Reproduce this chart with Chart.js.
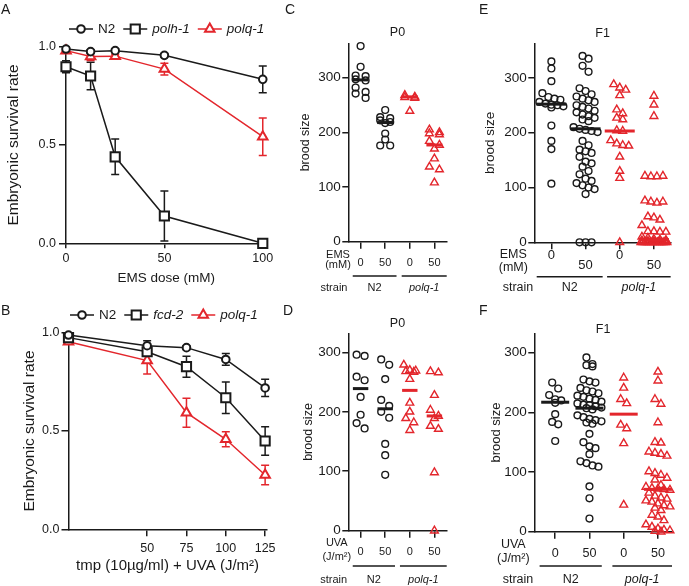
<!DOCTYPE html>
<html>
<head>
<meta charset="utf-8">
<script src="https://cdn.jsdelivr.net/npm/chart.js@4.4.1/dist/chart.umd.min.js"></script>
<style>
  body { margin: 0; background: #fff; }
  #fig { position: relative; width: 689px; height: 586px; overflow: hidden; font-family: 'Liberation Sans', Arial, sans-serif; }
  .panel { position: absolute; }
  .letter { position: absolute; font-size: 14px; color: #1a1a1a; line-height: 14px; }
</style>
</head>
<body>
<div id="fig">
  <div class="panel" style="left:0;top:0;width:300px;height:290px"><canvas id="chartA"></canvas></div>
  <div class="panel" style="left:0;top:290px;width:300px;height:296px"><canvas id="chartB"></canvas></div>
  <div class="panel" style="left:296px;top:0;width:184px;height:296px"><canvas id="chartC"></canvas></div>
  <div class="panel" style="left:296px;top:296px;width:184px;height:290px"><canvas id="chartD"></canvas></div>
  <div class="panel" style="left:480px;top:0;width:209px;height:296px"><canvas id="chartE"></canvas></div>
  <div class="panel" style="left:480px;top:296px;width:209px;height:290px"><canvas id="chartF"></canvas></div>
  <div class="letter" style="left:1px;top:2px">A</div>
  <div class="letter" style="left:1px;top:303px">B</div>
  <div class="letter" style="left:285px;top:2px">C</div>
  <div class="letter" style="left:283px;top:303px">D</div>
  <div class="letter" style="left:479px;top:2px">E</div>
  <div class="letter" style="left:479px;top:303px">F</div>
</div>
<script>
// ---- panel A: embryonic survival after EMS
const emsDose = [0, 12.5, 25, 50, 100];
const survEmsN2 = [0.988, 0.975, 0.98, 0.956, 0.834];
const errEmsN2 = [0.01, 0.01, 0.01, 0.01, 0.068];
const survEmsPolh = [0.898, 0.851, 0.44, 0.139, 0.0];
const errEmsPolh = [0.03, 0.07, 0.09, 0.127, 0];
const survEmsPolq = [0.98, 0.95, 0.952, 0.886, 0.542];
const errEmsPolq = [0.01, 0.02, 0.01, 0.03, 0.095];

// ---- panel B: embryonic survival after tmp + UVA
const tmpDose = [0, 50, 75, 100, 125];
const survTmpN2 = [0.988, 0.934, 0.924, 0.864, 0.719];
const errTmpN2 = [0.01, 0.025, 0.01, 0.03, 0.044];
const survTmpFcd = [0.975, 0.903, 0.827, 0.669, 0.449];
const errTmpFcd = [0.01, 0.02, 0.053, 0.08, 0.072];
const survTmpPolq = [0.954, 0.858, 0.593, 0.458, 0.276];
const errTmpPolq = [0.01, 0.068, 0.074, 0.038, 0.05];

const survivalTicks = [0, 0.5, 1];
const emsTicks = [0, 50, 100];
const tmpTicks = [50, 75, 100, 125];

// ---- brood size panels (C-F)
const strainNames = ['N2', 'polq-1'];
const doseCats = ['0', '50', '0', '50'];
const broodTicks = [0, 100, 200, 300];

// C: P0, EMS
const p0EmsN2Ctrl = [358, 320, 304, 303, 297, 295, 282, 274, 271, 263];
const p0EmsN2Dose = [241, 228, 226, 222, 219, 217, 198, 187, 176, 176];
const p0EmsPolqCtrl = [268, 265, 264, 263, 239];
const p0EmsPolqDose = [205, 200, 198, 196, 184, 177, 170, 152, 137, 132, 108];
const p0EmsMedian = [296, 218, 265, 177];

// E: F1, EMS
const f1EmsN2Ctrl = [330, 317, 294, 272, 265, 262, 260, 256, 253, 251, 250, 248, 246, 213, 185, 170, 107];
const f1EmsN2Dose = [340, 335, 322, 311, 281, 276, 270, 266, 262, 259, 256, 250, 247, 244, 240, 237, 233, 230, 227, 224, 221, 210, 207, 205, 203, 201, 185, 177, 169, 166, 163, 156, 147, 144, 138, 130, 124, 116, 112, 108, 104, 100, 97, 88, 0, 0, 0];
const f1EmsPolqCtrl = [288, 282, 278, 268, 242, 235, 227, 224, 204, 203, 186, 180, 177, 176, 156, 130, 117, 0];
const f1EmsPolqDose = [267, 251, 230, 121, 120, 120, 121, 76, 74, 72, 74, 47, 45, 41, 31, 20, 20, 19, 19, 10, 8, 6, 5, 4, 3, 2, 2, 1, 1, 0, 0, 0, 0, 0, 0, 0, 0, 0, 0, 0, 0, 0, 0, 0];
const f1EmsMedian = [252, 207, 203, 5];

// D: P0, UVA
const p0UvaN2Ctrl = [296, 294, 259, 253, 225, 195, 181, 172];
const p0UvaN2Dose = [288, 279, 255, 220, 210, 200, 190, 146, 127, 94];
const p0UvaPolqCtrl = [279, 270, 269, 268, 267, 255, 215, 200, 189, 182, 169];
const p0UvaPolqDose = [268, 266, 228, 203, 193, 189, 176, 171, 98, 0];
const p0UvaMedian = [239, 205, 236, 193];

// F: F1, UVA
const f1UvaN2Ctrl = [250, 240, 229, 222, 220, 216, 197, 184, 180, 152];
const f1UvaN2Dose = [292, 281, 279, 277, 255, 252, 250, 241, 237, 235, 232, 228, 226, 223, 221, 218, 215, 213, 212, 210, 208, 207, 205, 195, 192, 189, 187, 185, 183, 181, 164, 150, 143, 140, 130, 118, 115, 111, 109, 76, 56, 22];
const f1UvaPolqCtrl = [258, 241, 222, 215, 179, 173, 148, 45];
const f1UvaPolqDose = [268, 253, 222, 214, 183, 150, 149, 134, 132, 130, 127, 101, 98, 95, 90, 87, 78, 75, 73, 72, 71, 70, 65, 60, 57, 55, 52, 50, 47, 44, 42, 40, 36, 28, 25, 19, 12, 8, 5, 3, 2, 1, 0];
const f1UvaMedian = [217, 207, 197, 71];

const RED = '#e3262c';
const INK = '#1a1a1a';
const FONT = "'Liberation Sans', Arial, Helvetica, sans-serif";

Chart.defaults.font.family = FONT;
Chart.defaults.color = INK;

// vertical error bars with caps, drawn under the markers
const errorBars = {
    id: 'errorBars',
    beforeDatasetsDraw(chart) {
        const { ctx, scales: { x, y } } = chart;
        chart.data.datasets.forEach(ds => {
            if (!ds.errors) return;
            ctx.save();
            ctx.strokeStyle = ds.borderColor;
            ctx.lineWidth = 1.5;
            ds.data.forEach((p, i) => {
                const e = ds.errors[i];
                if (!e) return;
                const px = x.getPixelForValue(p.x);
                const top = y.getPixelForValue(p.y + e);
                const bot = y.getPixelForValue(p.y - e);
                ctx.beginPath();
                ctx.moveTo(px, top); ctx.lineTo(px, bot);
                ctx.moveTo(px - 4, top); ctx.lineTo(px + 4, top);
                ctx.moveTo(px - 4, bot); ctx.lineTo(px + 4, bot);
                ctx.stroke();
            });
            ctx.restore();
        });
    }
};

// legend row: line segment with marker, then label
const lineKey = {
    id: 'lineKey',
    afterDraw(chart, args, opts) {
        const ctx = chart.ctx;
        let x = opts.x;
        chart.data.datasets.forEach(ds => {
            ctx.save();
            ctx.strokeStyle = ds.borderColor;
            ctx.lineWidth = 1.5;
            ctx.beginPath();
            ctx.moveTo(x, opts.y); ctx.lineTo(x + opts.seg, opts.y);
            ctx.stroke();
            ctx.fillStyle = '#fff';
            ctx.lineWidth = ds.pointBorderWidth;
            Chart.helpers.drawPoint(ctx, {
                pointStyle: ds.pointStyle, radius: ds.pointRadius, rotation: 0, borderWidth: ds.pointBorderWidth
            }, x + opts.seg / 2, opts.y);
            ctx.font = (ds.italicKey ? 'italic ' : '') + opts.size + 'px ' + FONT;
            ctx.fillStyle = INK;
            ctx.textAlign = 'left';
            ctx.textBaseline = 'middle';
            ctx.fillText(ds.label, x + opts.seg + opts.gap, opts.y);
            x += opts.seg + opts.gap + ctx.measureText(ds.label).width + opts.space;
            ctx.restore();
        });
    }
};

// title, dose/strain rows and group bars under the dot plots
const broodNotes = {
    id: 'broodNotes',
    afterDraw(chart, args, o) {
        const { ctx, chartArea: a, scales: { x } } = chart;
        ctx.save();
        ctx.fillStyle = INK;
        ctx.textAlign = 'center';
        ctx.textBaseline = 'middle';
        ctx.font = o.titleSize + 'px ' + FONT;
        ctx.fillText(o.title, (a.left + a.right) / 2, a.top + o.titleDy);
        ctx.font = o.size + 'px ' + FONT;
        o.rowLabels.forEach((t, i) => ctx.fillText(t, a.left + o.rowDx, a.bottom + o.rowDy[i]));
        ctx.fillText('strain', a.left + o.strainDx, a.bottom + o.strainDy);
        ctx.strokeStyle = INK;
        ctx.lineWidth = 1.6;
        strainNames.forEach((name, g) => {
            const x1 = x.getPixelForValue(o.spans[g][0]);
            const x2 = x.getPixelForValue(o.spans[g][1]);
            ctx.beginPath();
            ctx.moveTo(x1, a.bottom + o.lineDy); ctx.lineTo(x2, a.bottom + o.lineDy);
            ctx.stroke();
            ctx.font = (g ? 'italic ' : '') + o.size + 'px ' + FONT;
            ctx.fillText(name, (x1 + x2) / 2, a.bottom + o.strainDy);
        });
        ctx.restore();
    }
};

function axisLook(tickLen) {
    return {
        grid: { display: true, drawOnChartArea: false, drawTicks: true, tickLength: tickLen, color: INK, lineWidth: 1.5 },
        border: { display: true, color: INK, width: 1.5 }
    };
}

function survivalSet(label, xs, ys, errs, color, style, radius, italic) {
    return {
        label: label,
        data: xs.map((x, i) => ({ x: x, y: ys[i] })),
        errors: errs,
        italicKey: italic,
        borderColor: color,
        borderWidth: 1.5,
        pointStyle: style,
        pointRadius: radius,
        pointBorderColor: color,
        pointBackgroundColor: '#fff',
        pointBorderWidth: 2,
        clip: false,
        tension: 0
    };
}

function survivalChart(id, c) {
    return new Chart(document.getElementById(id), {
        type: 'line',
        data: { datasets: c.datasets },
        options: {
            responsive: true,
            maintainAspectRatio: false,
            animation: false,
            layout: { padding: { left: 0, top: c.top, right: c.right, bottom: 0 } },
            plugins: { legend: { display: false }, tooltip: { enabled: false }, lineKey: c.key },
            scales: {
                x: Object.assign(axisLook(c.xTickLen), {
                    type: 'linear', min: 0, max: c.xMax,
                    afterBuildTicks: s => { s.ticks = c.xTicks.map(v => ({ value: v })); },
                    afterFit: s => { s.height = c.xHeight; },
                    ticks: { font: { size: 12.5 }, padding: c.xTickPad, maxRotation: 0 },
                    title: { display: true, text: c.xTitle, font: { size: c.xTitleSize }, padding: { top: 0, bottom: c.xTitlePad } }
                }),
                y: Object.assign(axisLook(7), {
                    min: 0, max: 1,
                    afterBuildTicks: s => { s.ticks = survivalTicks.map(v => ({ value: v })); },
                    afterFit: s => { s.width = c.yWidth; },
                    ticks: { font: { size: 12.5 }, padding: c.yTickPad, callback: v => v.toFixed(1) },
                    title: { display: true, text: 'Embryonic survival rate', font: { size: 15.5 }, padding: { top: c.yTitlePad, bottom: 0 } }
                })
            }
        },
        plugins: [errorBars, lineKey]
    });
}

// spread points of one group sideways, row by row, like a scatter dot plot
function spreadPoints(chart, sw) {
    const xs = chart.scales.x, ys = chart.scales.y;
    chart.data.datasets.forEach(ds => {
        if (!ds.cat) return;
        const cx = xs.getPixelForValue(ds.cat);
        let row = [];
        const flush = () => {
            const n = row.length;
            const gap = n > 1 ? Math.min(sw.space, 2 * sw.maxHalf / (n - 1)) : 0;
            row.forEach((p, j) => { p.x = xs.getValueForPixel(cx + (j - (n - 1) / 2) * gap); });
            row = [];
        };
        let startPx = null;
        ds.data.forEach(p => {
            const py = ys.getPixelForValue(p.y);
            const drop = startPx === null ? Infinity : py - startPx;
            // a full row only breaks if the next point sits visibly lower
            if (drop > sw.binH || (row.length >= sw.perRow && drop > 1.5)) { flush(); startPx = py; }
            row.push(p);
        });
        flush();
    });
}

function broodChart(id, c) {
    const sets = [{
        data: c.medians.map((v, i) => ({ x: i + 1, y: v })),
        pointStyle: 'line',
        pointRadius: c.medHalf,
        pointBorderWidth: 3,
        pointBorderColor: [INK, INK, RED, RED],
        clip: false
    }];
    c.groups.forEach((vals, i) => {
        const mutant = i > 1;
        sets.push({
            cat: i + 1,
            data: vals.map(v => ({ x: i + 1, y: v })),
            pointStyle: mutant ? 'triangle' : 'circle',
            pointRadius: mutant ? 4.5 : 3.4,
            pointBorderWidth: 1.4,
            pointBorderColor: mutant ? RED : INK,
            pointBackgroundColor: 'rgba(0,0,0,0)',
            clip: false
        });
    });
    const chart = new Chart(document.getElementById(id), {
        type: 'scatter',
        data: { datasets: sets },
        options: {
            responsive: true,
            maintainAspectRatio: false,
            animation: false,
            layout: { padding: { left: 0, top: c.top, right: c.right, bottom: 0 } },
            plugins: { legend: { display: false }, tooltip: { enabled: false }, broodNotes: c.notes },
            scales: {
                x: Object.assign(axisLook(7), {
                    type: 'linear', min: c.xMin, max: c.xMax,
                    afterBuildTicks: s => { s.ticks = doseCats.map((d, i) => ({ value: i + 1 })); },
                    afterFit: s => { s.height = c.xHeight; },
                    ticks: {
                        font: { size: c.xTickSize, lineHeight: c.xTickLine }, padding: c.xTickPad, maxRotation: 0,
                        callback: v => (c.stagger && v % 2 === 0) ? ['', doseCats[v - 1]] : doseCats[v - 1]
                    }
                }),
                y: Object.assign(axisLook(6), {
                    min: 0, max: c.yMax,
                    afterBuildTicks: s => { s.ticks = broodTicks.map(v => ({ value: v })); },
                    afterFit: s => { s.width = c.yWidth; },
                    ticks: { font: { size: 13.5 }, padding: 1.6 },
                    title: { display: true, text: 'brood size', font: { size: c.yTitleSize }, padding: { top: c.yTitlePad, bottom: 0 } }
                })
            }
        },
        plugins: [broodNotes]
    });
    spreadPoints(chart, c.swarm);
    chart.update('none');
    return chart;
}

document.addEventListener('DOMContentLoaded', function() {
    survivalChart('chartA', {
        datasets: [
            survivalSet('N2', emsDose, survEmsN2, errEmsN2, INK, 'circle', 3.8, false),
            survivalSet('polh-1', emsDose, survEmsPolh, errEmsPolh, INK, 'rect', 6.5, true),
            survivalSet('polq-1', emsDose, survEmsPolq, errEmsPolq, RED, 'triangle', 5.5, true)
        ],
        top: 46.7, right: 33.3, xMax: 102, xTicks: emsTicks,
        xHeight: 46.7, xTickLen: 5, xTickPad: 2.3,
        xTitle: 'EMS dose (mM)', xTitleSize: 13.5, xTitlePad: 3.9,
        yWidth: 66, yTickPad: 3, yTitlePad: 4.6,
        key: { x: 69, y: 29, seg: 24, gap: 5, space: 8, size: 13.5 }
    });

    survivalChart('chartB', {
        datasets: [
            survivalSet('N2', tmpDose, survTmpN2, errTmpN2, INK, 'circle', 3.8, false),
            survivalSet('fcd-2', tmpDose, survTmpFcd, errTmpFcd, INK, 'rect', 6.5, true),
            survivalSet('polq-1', tmpDose, survTmpPolq, errTmpPolq, RED, 'triangle', 5.5, true)
        ],
        top: 42.7, right: 33.3, xMax: 126, xTicks: tmpTicks,
        xHeight: 56.7, xTickLen: 7, xTickPad: 4.6,
        xTitle: 'tmp (10µg/ml) + UVA (J/m²)', xTitleSize: 15, xTitlePad: 11,
        yWidth: 68.5, yTickPad: 2, yTitlePad: 20.6,
        key: { x: 70, y: 25, seg: 24, gap: 5, space: 8, size: 13.5 }
    });

    broodChart('chartC', {
        groups: [p0EmsN2Ctrl, p0EmsN2Dose, p0EmsPolqCtrl, p0EmsPolqDose], medians: p0EmsMedian,
        medHalf: 8, top: 43.3, right: 33.3, xMin: 0.5, xMax: 4.5, yMax: 363,
        xHeight: 54.3, xTickSize: 11, xTickLine: 1.2, xTickPad: 8, stagger: false,
        yWidth: 52.3, yTitleSize: 12.5, yTitlePad: 2.2,
        swarm: { binH: 6, perRow: 2, space: 10, maxHalf: 6 },
        notes: { title: 'P0', titleSize: 12.5, titleDy: -10.3, size: 11, rowLabels: ['EMS', '(mM)'],
                 rowDx: -10.3, rowDy: [13.3, 23.3], strainDx: -14.3, strainDy: 46.3, lineDy: 34.3,
                 spans: [[0.68, 2.46], [2.67, 4.5]] }
    });

    broodChart('chartD', {
        groups: [p0UvaN2Ctrl, p0UvaN2Dose, p0UvaPolqCtrl, p0UvaPolqDose], medians: p0UvaMedian,
        medHalf: 7.7, top: 37.3, right: 33.3, xMin: 0.5, xMax: 4.5, yMax: 332,
        xHeight: 55.3, xTickSize: 11, xTickLine: 1.2, xTickPad: 7.4, stagger: false,
        yWidth: 52.3, yTitleSize: 12.5, yTitlePad: 5.2,
        swarm: { binH: 6, perRow: 3, space: 8, maxHalf: 6 },
        notes: { title: 'P0', titleSize: 12.5, titleDy: -10, size: 11, rowLabels: ['UVA', '(J/m²)'],
                 rowDx: -11.5, rowDy: [12.6, 26], strainDx: -14.6, strainDy: 49.3, lineDy: 35.3,
                 spans: [[0.68, 2.4], [2.6, 4.5]] }
    });

    broodChart('chartE', {
        groups: [f1EmsN2Ctrl, f1EmsN2Dose, f1EmsPolqCtrl, f1EmsPolqDose], medians: f1EmsMedian,
        medHalf: 15, top: 43.3, right: 9.7, xMin: 0.5, xMax: 4.5, yMax: 363,
        xHeight: 53.7, xTickSize: 13, xTickLine: 0.8, xTickPad: 0.5, stagger: true,
        yWidth: 54.3, yTitleSize: 13.5, yTitlePad: 1.8,
        swarm: { binH: 7, perRow: 5, space: 6, maxHalf: 13 },
        notes: { title: 'F1', titleSize: 12.5, titleDy: -10, size: 12.5, rowLabels: ['EMS', '(mM)'],
                 rowDx: -21, rowDy: [12.7, 25.7], strainDx: -16.3, strainDy: 45.7, lineDy: 34.4,
                 spans: [[0.57, 2.5], [2.63, 4.49]] }
    });

    broodChart('chartF', {
        groups: [f1UvaN2Ctrl, f1UvaN2Dose, f1UvaPolqCtrl, f1UvaPolqDose], medians: f1UvaMedian,
        medHalf: 14, top: 37.3, right: 7.3, xMin: 0.39, xMax: 4.41, yMax: 332.5,
        xHeight: 54.3, xTickSize: 12.6, xTickLine: 1.2, xTickPad: 7, stagger: false,
        yWidth: 54.3, yTitleSize: 13, yTitlePad: 8.9,
        swarm: { binH: 7, perRow: 5, space: 6, maxHalf: 12 },
        notes: { title: 'F1', titleSize: 12.5, titleDy: -4, size: 12.5, rowLabels: ['UVA', '(J/m²)'],
                 rowDx: -21, rowDy: [13.3, 26.6], strainDx: -16.3, strainDy: 48.3, lineDy: 34.3,
                 spans: [[0.545, 2.36], [2.67, 4.41]] }
    });
});
</script>
</body>
</html>
